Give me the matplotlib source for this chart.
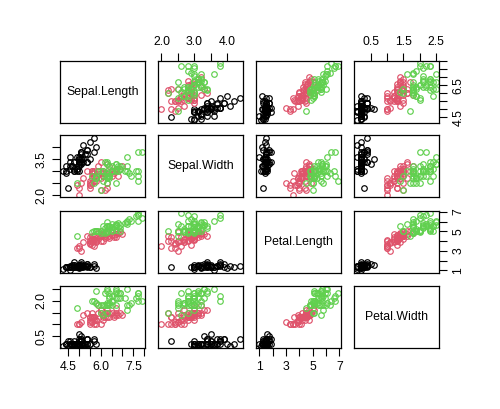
import matplotlib
matplotlib.use("Agg")
import matplotlib.pyplot as plt
import numpy as np

# iris measurements (setosa, versicolor, virginica; 50 each)
sepal_length = [
    5.1, 4.9, 4.7, 4.6, 5.0, 5.4, 4.6, 5.0, 4.4, 4.9, 5.4, 4.8, 4.8, 4.3, 5.8, 5.7, 5.4, 5.1, 5.7, 5.1,
    5.4, 5.1, 4.6, 5.1, 4.8, 5.0, 5.0, 5.2, 5.2, 4.7, 4.8, 5.4, 5.2, 5.5, 4.9, 5.0, 5.5, 4.9, 4.4, 5.1,
    5.0, 4.5, 4.4, 5.0, 5.1, 4.8, 5.1, 4.6, 5.3, 5.0,
    7.0, 6.4, 6.9, 5.5, 6.5, 5.7, 6.3, 4.9, 6.6, 5.2, 5.0, 5.9, 6.0, 6.1, 5.6, 6.7, 5.6, 5.8, 6.2, 5.6,
    5.9, 6.1, 6.3, 6.1, 6.4, 6.6, 6.8, 6.7, 6.0, 5.7, 5.5, 5.5, 5.8, 6.0, 5.4, 6.0, 6.7, 6.3, 5.6, 5.5,
    5.5, 6.1, 5.8, 5.0, 5.6, 5.7, 5.7, 6.2, 5.1, 5.7,
    6.3, 5.8, 7.1, 6.3, 6.5, 7.6, 4.9, 7.3, 6.7, 7.2, 6.5, 6.4, 6.8, 5.7, 5.8, 6.4, 6.5, 7.7, 7.7, 6.0,
    6.9, 5.6, 7.7, 6.3, 6.7, 7.2, 6.2, 6.1, 6.4, 7.2, 7.4, 7.9, 6.4, 6.3, 6.1, 7.7, 6.3, 6.4, 6.0, 6.9,
    6.7, 6.9, 5.8, 6.8, 6.7, 6.7, 6.3, 6.5, 6.2, 5.9,
]
sepal_width = [
    3.5, 3.0, 3.2, 3.1, 3.6, 3.9, 3.4, 3.4, 2.9, 3.1, 3.7, 3.4, 3.0, 3.0, 4.0, 4.4, 3.9, 3.5, 3.8, 3.8,
    3.4, 3.7, 3.6, 3.3, 3.4, 3.0, 3.4, 3.5, 3.4, 3.2, 3.1, 3.4, 4.1, 4.2, 3.1, 3.2, 3.5, 3.6, 3.0, 3.4,
    3.5, 2.3, 3.2, 3.5, 3.8, 3.0, 3.8, 3.2, 3.7, 3.3,
    3.2, 3.2, 3.1, 2.3, 2.8, 2.8, 3.3, 2.4, 2.9, 2.7, 2.0, 3.0, 2.2, 2.9, 2.9, 3.1, 3.0, 2.7, 2.2, 2.5,
    3.2, 2.8, 2.5, 2.8, 2.9, 3.0, 2.8, 3.0, 2.9, 2.6, 2.4, 2.4, 2.7, 2.7, 3.0, 3.4, 3.1, 2.3, 3.0, 2.5,
    2.6, 3.0, 2.6, 2.3, 2.7, 3.0, 2.9, 2.9, 2.5, 2.8,
    3.3, 2.7, 3.0, 2.9, 3.0, 3.0, 2.5, 2.9, 2.5, 3.6, 3.2, 2.7, 3.0, 2.5, 2.8, 3.2, 3.0, 3.8, 2.6, 2.2,
    3.2, 2.8, 2.8, 2.7, 3.3, 3.2, 2.8, 3.0, 2.8, 3.0, 2.8, 3.8, 2.8, 2.8, 2.6, 3.0, 3.4, 3.1, 3.0, 3.1,
    3.1, 3.1, 2.7, 3.2, 3.3, 3.0, 2.5, 3.0, 3.4, 3.0,
]
petal_length = [
    1.4, 1.4, 1.3, 1.5, 1.4, 1.7, 1.4, 1.5, 1.4, 1.5, 1.5, 1.6, 1.4, 1.1, 1.2, 1.5, 1.3, 1.4, 1.7, 1.5,
    1.7, 1.5, 1.0, 1.7, 1.9, 1.6, 1.6, 1.5, 1.4, 1.6, 1.6, 1.5, 1.5, 1.4, 1.5, 1.2, 1.3, 1.4, 1.3, 1.5,
    1.3, 1.3, 1.3, 1.6, 1.9, 1.4, 1.6, 1.4, 1.5, 1.4,
    4.7, 4.5, 4.9, 4.0, 4.6, 4.5, 4.7, 3.3, 4.6, 3.9, 3.5, 4.2, 4.0, 4.7, 3.6, 4.4, 4.5, 4.1, 4.5, 3.9,
    4.8, 4.0, 4.9, 4.7, 4.3, 4.4, 4.8, 5.0, 4.5, 3.5, 3.8, 3.7, 3.9, 5.1, 4.5, 4.5, 4.7, 4.4, 4.1, 4.0,
    4.4, 4.6, 4.0, 3.3, 4.2, 4.2, 4.2, 4.3, 3.0, 4.1,
    6.0, 5.1, 5.9, 5.6, 5.8, 6.6, 4.5, 6.3, 5.8, 6.1, 5.1, 5.3, 5.5, 5.0, 5.1, 5.3, 5.5, 6.7, 6.9, 5.0,
    5.7, 4.9, 6.7, 4.9, 5.7, 6.0, 4.8, 4.9, 5.6, 5.8, 6.1, 6.4, 5.6, 5.1, 5.6, 6.1, 5.6, 5.5, 4.8, 5.4,
    5.6, 5.1, 5.1, 5.9, 5.7, 5.2, 5.0, 5.2, 5.4, 5.1,
]
petal_width = [
    0.2, 0.2, 0.2, 0.2, 0.2, 0.4, 0.3, 0.2, 0.2, 0.1, 0.2, 0.2, 0.1, 0.1, 0.2, 0.4, 0.4, 0.3, 0.3, 0.3,
    0.2, 0.4, 0.2, 0.5, 0.2, 0.2, 0.4, 0.2, 0.2, 0.2, 0.2, 0.4, 0.1, 0.2, 0.2, 0.2, 0.2, 0.1, 0.2, 0.2,
    0.3, 0.3, 0.2, 0.6, 0.4, 0.3, 0.2, 0.2, 0.2, 0.2,
    1.4, 1.5, 1.5, 1.3, 1.5, 1.3, 1.6, 1.0, 1.3, 1.4, 1.0, 1.5, 1.0, 1.4, 1.3, 1.4, 1.5, 1.0, 1.5, 1.1,
    1.8, 1.3, 1.5, 1.2, 1.3, 1.4, 1.4, 1.7, 1.5, 1.0, 1.1, 1.0, 1.2, 1.6, 1.5, 1.6, 1.5, 1.3, 1.3, 1.3,
    1.2, 1.4, 1.2, 1.0, 1.3, 1.2, 1.3, 1.3, 1.1, 1.3,
    2.5, 1.9, 2.1, 1.8, 2.2, 2.1, 1.7, 1.8, 1.8, 2.5, 2.0, 1.9, 2.1, 2.0, 2.4, 2.3, 1.8, 2.2, 2.3, 1.5,
    2.3, 2.0, 2.0, 1.8, 2.1, 1.8, 1.8, 1.8, 2.1, 1.6, 1.9, 2.0, 2.2, 1.5, 1.4, 2.3, 2.4, 1.8, 1.8, 2.1,
    2.4, 2.3, 1.9, 2.3, 2.5, 2.3, 1.9, 2.0, 2.3, 1.8,
]
species_names = ["setosa", "versicolor", "virginica"]
species_counts = [50, 50, 50]
species_colors = ["black", "#DF536B", "#61D04F"]

var_names = ["Sepal.Length", "Sepal.Width", "Petal.Length", "Petal.Width"]
columns = [sepal_length, sepal_width, petal_length, petal_width]

# tick positions and which of them get a label (R drops overlapping labels)
ticks = [
    [4.5, 5.0, 5.5, 6.0, 6.5, 7.0, 7.5, 8.0],
    [2.0, 2.5, 3.0, 3.5, 4.0],
    [1, 2, 3, 4, 5, 6, 7],
    [0.5, 1.0, 1.5, 2.0, 2.5],
]
bottom_labels = {0: ["4.5", "", "", "6.0", "", "", "7.5", ""],
                 2: ["1", "", "3", "", "5", "", "7"]}
top_labels = {1: ["2.0", "", "3.0", "", "4.0"],
              3: ["0.5", "", "1.5", "", "2.5"]}
right_labels = {0: ["4.5", "", "", "", "6.5", "", "", ""],
                2: ["1", "", "3", "", "5", "", "7"]}
left_labels = {1: ["2.0", "", "", "3.5", ""],
               3: ["0.5", "", "", "2.0", ""]}

plt.rcParams['font.family'] = ['Liberation Sans', 'DejaVu Sans']
fs = 8.8

fig = plt.figure(figsize=(5.0, 4.09), dpi=100)
W, H = 500, 409
x0s = [60.3, 158.3, 256.3, 354.3]
y0s = [60.7, 135.3, 210.7, 286.3]
pw, ph = 85, 62

group = np.repeat(np.arange(len(species_counts)), species_counts)
lims = []
for col in columns:
    lo, hi = min(col), max(col)
    d = (hi - lo) * 0.04
    lims.append((lo - d, hi + d))

for i in range(4):
    for j in range(4):
        ax = fig.add_axes([x0s[j] / W, 1 - (y0s[i] + ph) / H, pw / W, ph / H])
        for s in ax.spines.values():
            s.set_linewidth(0.9)
        ax.set_xlim(lims[j])
        ax.set_ylim(lims[i])
        ax.tick_params(length=5.5, width=0.8, labelsize=fs, pad=4,
                       bottom=False, top=False, left=False, right=False,
                       labelbottom=False, labeltop=False, labelleft=False, labelright=False)
        if i == j:
            ax.text(0.5, 0.5, var_names[i], transform=ax.transAxes,
                    ha='center', va='center', fontsize=fs)
            ax.set_xticks([])
            ax.set_yticks([])
        else:
            xv = np.array(columns[j])
            yv = np.array(columns[i])
            for g, c in enumerate(species_colors):
                m = group == g
                ax.plot(xv[m], yv[m], 'o', mfc='none', mec=c, ms=4.0, mew=0.85)
        # axes around the outside, alternating like R pairs()
        if i == 3 and j in bottom_labels:
            ax.set_xticks(ticks[j])
            ax.set_xticklabels(bottom_labels[j])
            ax.tick_params(bottom=True, labelbottom=True)
        if i == 0 and j in top_labels:
            ax.set_xticks(ticks[j])
            ax.set_xticklabels(top_labels[j])
            ax.tick_params(top=True, labeltop=True)
        if j == 3 and i in right_labels:
            ax.set_yticks(ticks[i])
            ax.set_yticklabels(right_labels[i], rotation=90, va='center')
            ax.tick_params(right=True, labelright=True)
        if j == 0 and i in left_labels:
            ax.set_yticks(ticks[i])
            ax.set_yticklabels(left_labels[i], rotation=90, va='center')
            ax.tick_params(left=True, labelleft=True)

fig.savefig("out.png", dpi=100)
